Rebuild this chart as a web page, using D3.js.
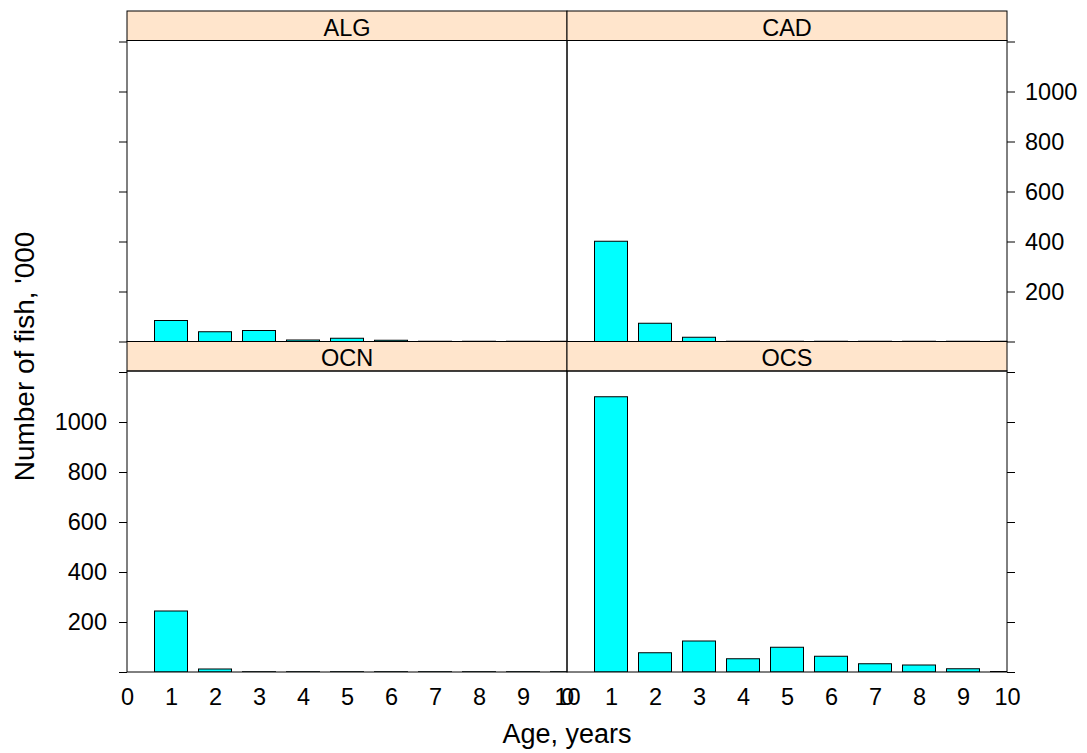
<!DOCTYPE html>
<html>
<head>
<meta charset="utf-8">
<script src="https://cdn.jsdelivr.net/npm/d3@7"></script>
<style>
  body { margin: 0; background: #fff; }
</style>
</head>
<body>
<div id="chart"></div>
<script>
	// ages on the x axis and fish counts ('000) per area
	var ages = [1, 2, 3, 4, 5, 6, 7, 8, 9, 10];
	var algValues = [84, 39, 44, 6, 13, 5, 1, 1, 1, 1];
	var cadValues = [401, 73, 17, 1, 1, 1, 1, 1, 1, 1];
	var ocnValues = [244, 12, 1, 1, 1, 1, 1, 1, 1, 1];
	var ocsValues = [1101, 77, 124, 53, 99, 63, 33, 28, 13, 2];
	var xTicks = [0, 1, 2, 3, 4, 5, 6, 7, 8, 9, 10];
	var yTicks = [0, 200, 400, 600, 800, 1000, 1200];

	// panels laid out like the lattice plot: ALG CAD on top, OCN OCS below
	var panels = [
		{ name: "ALG", values: algValues, col: 0, row: 0 },
		{ name: "CAD", values: cadValues, col: 1, row: 0 },
		{ name: "OCN", values: ocnValues, col: 0, row: 1 },
		{ name: "OCS", values: ocsValues, col: 1, row: 1 }
	];

	var wi = 1087;
	var he = 753;
	var gridLeft = 127;
	var panelW = 440;
	var gridTop = 11;
	var stripH = 29.5;
	var panelH = 301;
	var font = "'Liberation Sans', Arial, sans-serif";
	var tickFont = "23.5px";

	var svg = d3.select("#chart")
				.append("svg")
				.attr("width", wi)
				.attr("height", he);

	var x = d3.scaleLinear().domain([0, 10]).range([0, panelW]);
	var y = d3.scaleLinear().domain([0, 1204]).range([panelH, 0]);
	var barW = x(0.75) - x(0);

	svg.append("defs").append("clipPath")
		.attr("id", "panelClip")
		.append("rect")
		.attr("width", panelW)
		.attr("height", panelH);

	panels.forEach(function(p) {
		var px = gridLeft + p.col * panelW;
		var py = gridTop + p.row * (stripH + panelH);
		var g = svg.append("g").attr("transform", "translate(" + px + "," + py + ")");

		// strip with the area name
		g.append("rect")
			.attr("width", panelW)
			.attr("height", stripH)
			.attr("fill", "#ffe5cc")
			.attr("stroke", "#000")
			.attr("stroke-width", 1);
		g.append("text")
			.attr("x", panelW / 2)
			.attr("y", stripH - 5)
			.attr("text-anchor", "middle")
			.attr("font-family", font)
			.attr("font-size", "23.5px")
			.attr("fill", "#000")
			.text(p.name);

		var body = g.append("g").attr("transform", "translate(0," + stripH + ")");

		// bars
		body.append("g")
			.attr("clip-path", "url(#panelClip)")
			.selectAll("rect")
			.data(p.values)
			.enter()
			.append("rect")
			.attr("x", function(d, i) { return x(ages[i]) - barW / 2; })
			.attr("y", function(d) { return y(d); })
			.attr("width", barW)
			.attr("height", function(d) { return y(0) - y(d); })
			.attr("fill", "#00ffff")
			.attr("stroke", "#000")
			.attr("stroke-width", 1);

		body.append("rect")
			.attr("width", panelW)
			.attr("height", panelH)
			.attr("fill", "none")
			.attr("stroke", "#000")
			.attr("stroke-width", 1);

		// y axis: left column on the left, right column on the right
		var showLabels = (p.col == 0 && p.row == 1) || (p.col == 1 && p.row == 0);
		var yAxis = (p.col == 0 ? d3.axisLeft(y) : d3.axisRight(y))
			.tickValues(yTicks)
			.tickSize(8)
			.tickPadding(p.col == 0 ? 12 : 10)
			.tickFormat(function(d) {
				if (!showLabels || d == 0 || d == 1200) return "";
				return d;
			});
		var ya = body.append("g")
			.attr("transform", "translate(" + (p.col == 0 ? 0 : panelW) + ",0)")
			.call(yAxis);
		ya.select(".domain").remove();
		ya.selectAll("text")
			.attr("font-family", font)
			.attr("font-size", tickFont)
			.attr("fill", "#000");

		// x axis only under the bottom row
		if (p.row == 1) {
			var xa = body.append("g")
				.attr("transform", "translate(0," + panelH + ")")
				.call(d3.axisBottom(x).tickValues(xTicks).tickSize(0).tickPadding(16));
			xa.select(".domain").remove();
			xa.selectAll("text")
				.attr("font-family", font)
				.attr("font-size", tickFont)
				.attr("fill", "#000");
		}
	});

	// axis titles
	svg.append("text")
		.attr("x", gridLeft + panelW)
		.attr("y", 743)
		.attr("text-anchor", "middle")
		.attr("font-family", font)
		.attr("font-size", "27px")
		.attr("fill", "#000")
		.text("Age, years");

	svg.append("text")
		.attr("transform", "translate(34," + (gridTop + stripH + panelH + 15) + ") rotate(-90)")
		.attr("text-anchor", "middle")
		.attr("font-family", font)
		.attr("font-size", "28px")
		.attr("fill", "#000")
		.text("Number of fish, '000");
</script>
</body>
</html>
